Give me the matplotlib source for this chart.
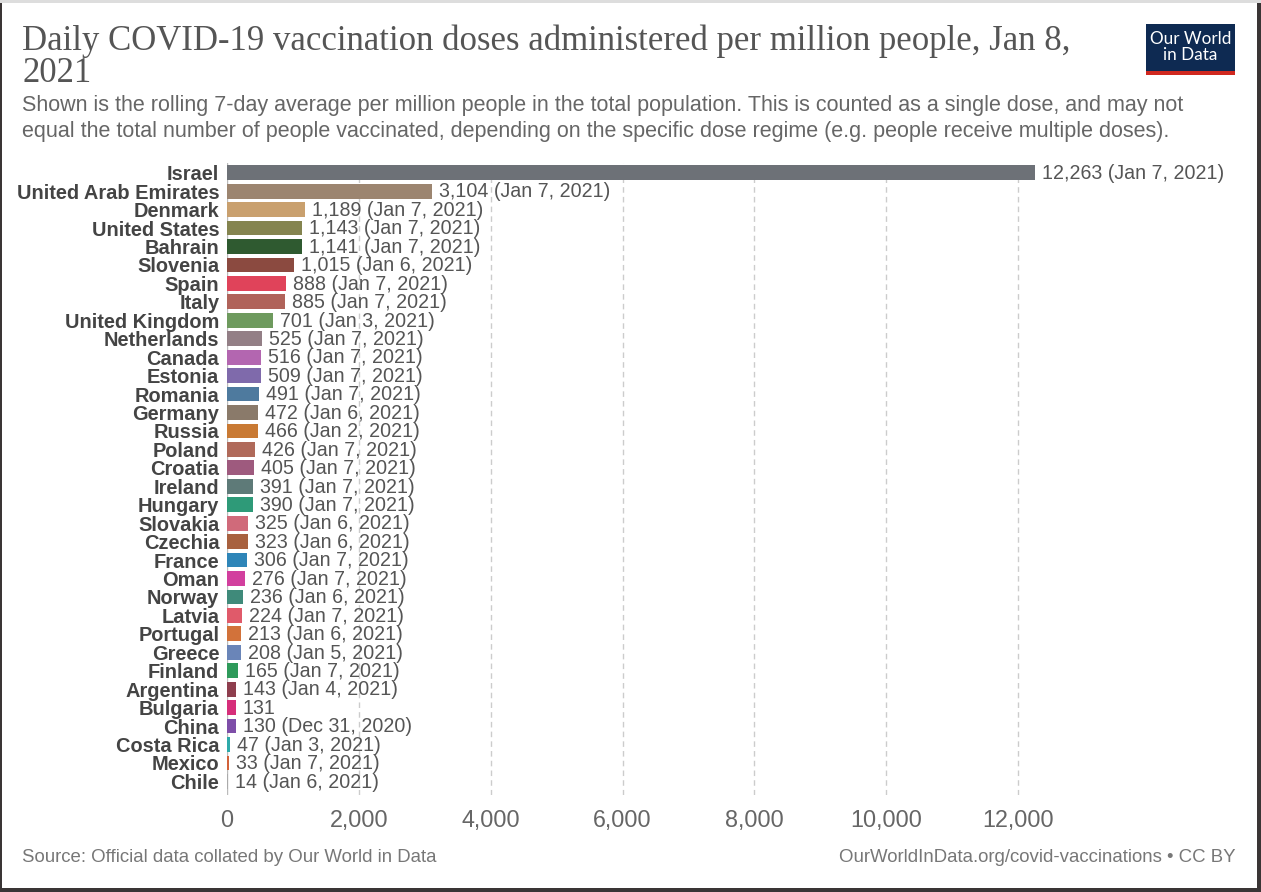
import matplotlib
matplotlib.use("Agg")
import matplotlib.pyplot as plt
from matplotlib.patches import Rectangle

countries = ["Israel", "United Arab Emirates", "Denmark", "United States", "Bahrain", "Slovenia",
             "Spain", "Italy", "United Kingdom", "Netherlands", "Canada", "Estonia", "Romania",
             "Germany", "Russia", "Poland", "Croatia", "Ireland", "Hungary", "Slovakia", "Czechia",
             "France", "Oman", "Norway", "Latvia", "Portugal", "Greece", "Finland", "Argentina",
             "Bulgaria", "China", "Costa Rica", "Mexico", "Chile"]
values = [12263, 3104, 1189, 1143, 1141, 1015, 888, 885, 701, 525, 516, 509, 491, 472, 466, 426,
          405, 391, 390, 325, 323, 306, 276, 236, 224, 213, 208, 165, 143, 131, 130, 47, 33, 14]
dates = ["Jan 7, 2021", "Jan 7, 2021", "Jan 7, 2021", "Jan 7, 2021", "Jan 7, 2021", "Jan 6, 2021",
         "Jan 7, 2021", "Jan 7, 2021", "Jan 3, 2021", "Jan 7, 2021", "Jan 7, 2021", "Jan 7, 2021",
         "Jan 7, 2021", "Jan 6, 2021", "Jan 2, 2021", "Jan 7, 2021", "Jan 7, 2021", "Jan 7, 2021",
         "Jan 7, 2021", "Jan 6, 2021", "Jan 6, 2021", "Jan 7, 2021", "Jan 7, 2021", "Jan 6, 2021",
         "Jan 7, 2021", "Jan 6, 2021", "Jan 5, 2021", "Jan 7, 2021", "Jan 4, 2021", "",
         "Dec 31, 2020", "Jan 3, 2021", "Jan 7, 2021", "Jan 6, 2021"]
colors = ["#6d7177", "#9c8570", "#c9a06e", "#84844f", "#2f5a30", "#8b4a40", "#e0435a", "#b0635a",
          "#6e9a5e", "#937f86", "#b366b0", "#7f6aab", "#4e7a9e", "#8a7a6a", "#c97a34", "#b06a5a",
          "#9e5a7e", "#5e7a78", "#2e9a78", "#d06a7a", "#a8613f", "#2e85b8", "#d23f9e", "#3f8a7a",
          "#e05a6a", "#d2723a", "#6a85b8", "#2e9a5a", "#8e3e4e", "#d62e7a", "#7e4ea8", "#2eaaaa",
          "#d2623a", "#aaaaaa"]
xticks = [0, 2000, 4000, 6000, 8000, 10000, 12000]

W, H = 1261, 892
fig = plt.figure(figsize=(W / 100, H / 100), dpi=100)
fig.patch.set_facecolor("white")

def fx(px):
    return px / W

def fy(py):
    return 1 - py / H

# axes geometry (pixels)
ax_left, ax_right, ax_top, ax_bottom = 227, 1240, 163, 795
ax = fig.add_axes([fx(ax_left), fy(ax_bottom), fx(ax_right - ax_left), (ax_bottom - ax_top) / H])
px_per_unit = (1018 - 227) / 12000
ax.set_xlim(0, (ax_right - ax_left) / px_per_unit)
row = 19.0
ax.set_ylim(len(countries) - 1 + 14 / row, -10 / row)

ypos = list(range(len(countries)))
ax.barh(ypos, values, height=0.8, color=colors, zorder=3)

sans = "Liberation Sans"
for y, v, d in zip(ypos, values, dates):
    lab = f"{v:,}" + (f" ({d})" if d else "")
    ax.text(v + 7 / px_per_unit, y + 0.04, lab, va="center", ha="left", fontsize=14.1,
            color="#555555", family=sans, zorder=4)

ax.set_yticks(ypos)
ax.set_yticklabels(countries, fontsize=14.4, fontweight="bold", color="#444444", family=sans)
ax.tick_params(axis="y", length=0, pad=5.5)
ax.set_xticks(xticks)
ax.set_xticklabels([f"{t:,}" for t in xticks], fontsize=16.8, color="#666666", family=sans)
ax.tick_params(axis="x", length=0, pad=10)

for t in xticks[1:]:
    ax.axvline(t, color="#cccccc", lw=1, ls=(0, (4, 3)), zorder=1)
ax.axvline(0, color="#bbbbbb", lw=1, zorder=2)
for s in ax.spines.values():
    s.set_visible(False)

# titles
fig.text(fx(22), fy(41), "Daily COVID-19 vaccination doses administered per million people, Jan 8,",
         ha="left", va="center", fontsize=25, color="#555555", family="Liberation Serif")
fig.text(fx(22), fy(74), "2021",
         ha="left", va="center", fontsize=25, color="#555555", family="Liberation Serif")
fig.text(fx(22), fy(105),
         "Shown is the rolling 7-day average per million people in the total population. This is counted as a single dose, and may not",
         ha="left", va="center", fontsize=15.5, color="#666666", family=sans)
fig.text(fx(22), fy(131),
         "equal the total number of people vaccinated, depending on the specific dose regime (e.g. people receive multiple doses).",
         ha="left", va="center", fontsize=15.5, color="#666666", family=sans)

# footer
fig.text(fx(22), fy(857), "Source: Official data collated by Our World in Data", ha="left", va="center",
         fontsize=13.4, color="#777777", family=sans)
fig.text(fx(1236), fy(857), "OurWorldInData.org/covid-vaccinations \u2022 CC BY", ha="right", va="center",
         fontsize=13.4, color="#777777", family=sans)

# logo
fig.patches.append(Rectangle((fx(1146), fy(75)), fx(89), 51 / H, transform=fig.transFigure,
                             facecolor="#0e2a52", edgecolor="none"))
fig.patches.append(Rectangle((fx(1146), fy(75)), fx(89), 4 / H, transform=fig.transFigure,
                             facecolor="#d0281f", edgecolor="none"))
fig.text(fx(1190.5), fy(47), "Our World\nin Data", ha="center", va="center", fontsize=12.3,
         color="white", family="Lato", linespacing=1.0)

# frame borders
fig.patches.append(Rectangle((0, fy(3)), 1, 3 / H, transform=fig.transFigure,
                             facecolor="#dddddd", edgecolor="none"))
fig.patches.append(Rectangle((0, 0), fx(2), 1 - 3 / H, transform=fig.transFigure,
                             facecolor="#3a3535", edgecolor="none"))
fig.patches.append(Rectangle((fx(1257), 0), fx(4), 1 - 3 / H, transform=fig.transFigure,
                             facecolor="#3a3535", edgecolor="none"))
fig.patches.append(Rectangle((0, 0), 1, 4 / H, transform=fig.transFigure,
                             facecolor="#3a3535", edgecolor="none"))

fig.savefig("out.png", dpi=100)
